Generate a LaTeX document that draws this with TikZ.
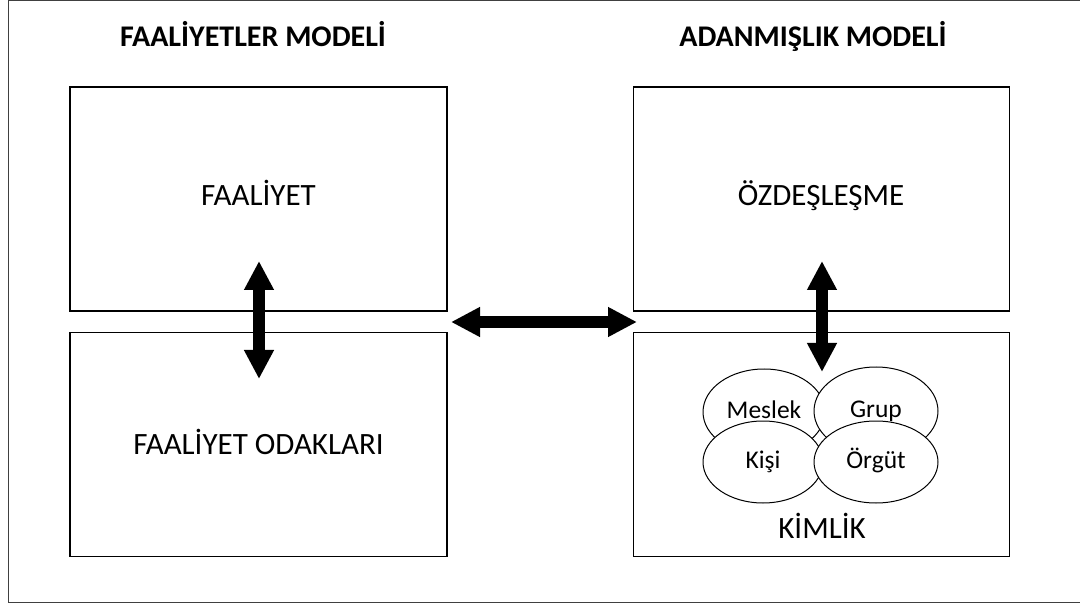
\documentclass[tikz,border=0pt]{standalone}
\usepackage{fontspec}
\setmainfont{Carlito}
\usetikzlibrary{positioning,shapes.geometric,arrows.meta}

\begin{document}
\begin{tikzpicture}[x=1pt,y=-1pt,node distance=20pt,
box/.style={draw,line width=1.1pt,minimum width=377pt,minimum height=224pt,inner sep=0pt,text height=14pt,text depth=0pt,font=\fontsize{31}{36}\selectfont},
oval/.style={draw,ellipse,fill=white,line width=1pt,inner sep=0pt,text height=13pt,text depth=0pt,font=\fontsize{25.5}{30}\selectfont},
title/.style={anchor=base,font=\fontsize{30}{34}\selectfont\bfseries},
dbl/.style={{Triangle[length=29pt,width=28pt]}-{Triangle[length=29pt,width=28pt]},line width=12.5pt}]
\useasboundingbox (0,0) rectangle (1080,604);
\draw[line width=1pt,black!75] (1080,1) -- (8,1) -- (8,602) -- (1080,602);

\node[title] (t1) at (253,47) {FAALİYETLER MODELİ};
\node[title] (t2) at (813,47) {ADANMIŞLIK MODELİ};

\node[box] (1) at (258.5,199) {FAALİYET};
\node[box,text height=20pt] (2) [below=20pt of 1] {FAALİYET ODAKLARI};
\node[box,minimum width=376pt] (3) [right=185pt of 1] {ÖZDEŞLEŞME};
\node[box,minimum width=376pt] (4) [below=20pt of 3] {};

\node[oval,minimum width=122pt,minimum height=86pt] (5) at (764,412) {Meslek};
\node[oval,minimum width=124pt,minimum height=88pt] (6) at (876,411) {Grup};
\node[oval,minimum width=120pt,minimum height=82pt] (7) at (763,462) {Kişi};
\node[oval,minimum width=124pt,minimum height=82pt] (8) at (876,462) {Örgüt};
\node[anchor=base,font=\fontsize{31}{36}\selectfont] (9) at (822,538) {KİMLİK};

\coordinate (a1) at (259,261);
\coordinate (a2) at (259,379);
\coordinate (b1) at (451,322);
\coordinate (b2) at (637,322);
\coordinate (c1) at (822,261);
\coordinate (c2) at (822,372);
\draw[dbl] (a1) -- (a2);
\draw[dbl] (b1) -- (b2);
\draw[dbl] (c1) -- (c2);

\end{tikzpicture}
\end{document}
